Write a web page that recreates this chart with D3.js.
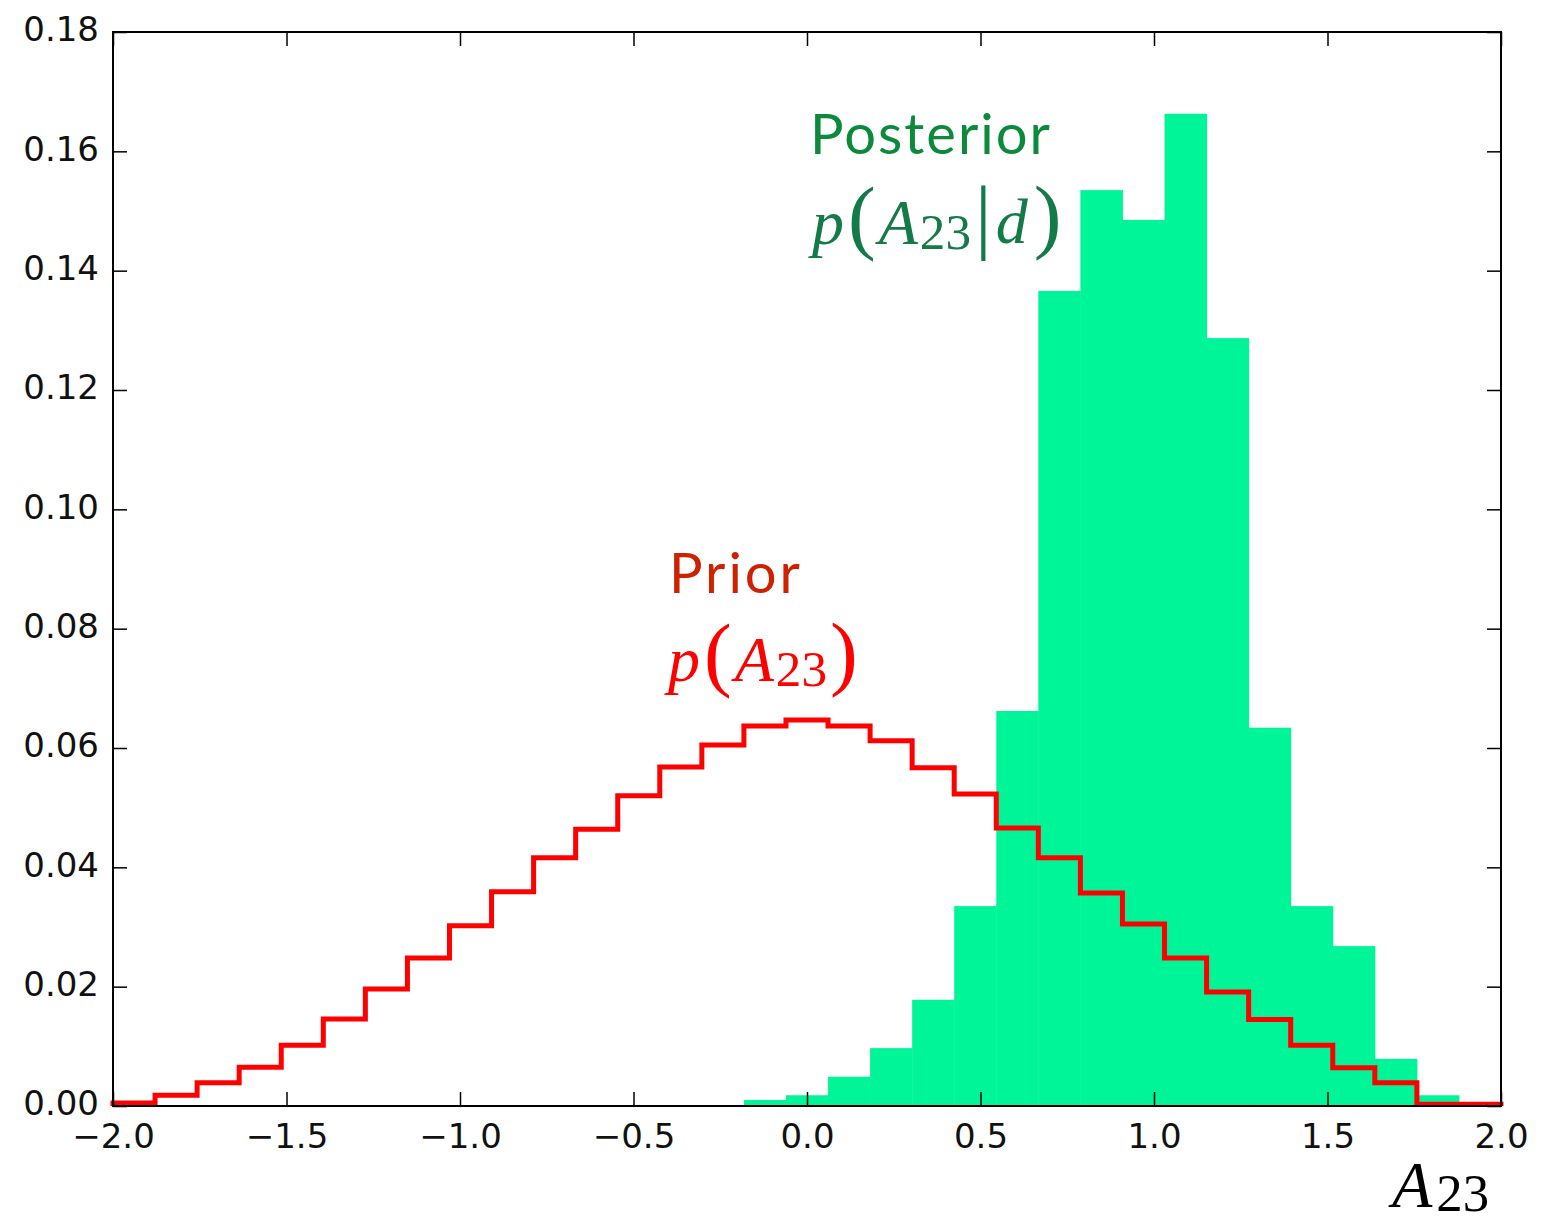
<!DOCTYPE html>
<html>
<head>
<meta charset="utf-8">
<script src="https://cdn.jsdelivr.net/npm/d3@7"></script>
<style>
  body { margin: 0; background: #fff; }
  svg { display: block; }
</style>
</head>
<body>
<div id="chart"></div>
<script>
// 33 equal bins from -2 to 2
const binCount = 33;
const xDomain = [-2, 2];
const yDomain = [0, 0.18];
const xTicks = [-2.0, -1.5, -1.0, -0.5, 0.0, 0.5, 1.0, 1.5, 2.0];
const yTicks = [0.00, 0.02, 0.04, 0.06, 0.08, 0.10, 0.12, 0.14, 0.16, 0.18];

// prior p(A23), one value per bin
const priorValues = [
  0.0005, 0.0018, 0.0039, 0.0065, 0.0102, 0.0146, 0.0196, 0.0248, 0.0302, 0.0359, 0.0416,
  0.0464, 0.0520, 0.0568, 0.0605, 0.0637, 0.0647, 0.0637, 0.0612, 0.0567, 0.0523, 0.0466,
  0.0416, 0.0357, 0.0305, 0.0248, 0.0191, 0.0145, 0.0102, 0.0064, 0.0039, 0.0003, 0.0003
];

// posterior p(A23|d), one value per bin
const posteriorValues = [
  0, 0, 0, 0, 0, 0, 0, 0, 0, 0, 0,
  0, 0, 0, 0, 0.0010, 0.0018, 0.0049, 0.0097, 0.0178, 0.0335, 0.0662,
  0.1366, 0.1535, 0.1485, 0.1663, 0.1287, 0.0634, 0.0335, 0.0268, 0.0079, 0.0018, 0
];

const W = 1546, H = 1224;
const margin = {top: 32, right: 45, bottom: 118, left: 113};

const svg = d3.select("#chart")
  .append("svg")
  .attr("width", W)
  .attr("height", H);

const x = d3.scaleLinear()
  .domain(xDomain)
  .range([margin.left, W - margin.right]);

const y = d3.scaleLinear()
  .domain(yDomain)
  .range([H - margin.bottom, margin.top]);

const binWidth = (xDomain[1] - xDomain[0]) / binCount;
const edge = i => xDomain[0] + i * binWidth;

const plot = svg.append("g");

// posterior filled bars
plot.append("g")
  .selectAll("rect")
  .data(posteriorValues.map((v, i) => ({i, v})).filter(d => d.v > 0))
  .join("rect")
  .attr("x", d => x(edge(d.i)))
  .attr("width", d => x(edge(d.i + 1)) - x(edge(d.i)) + 0.5)
  .attr("y", d => y(d.v))
  .attr("height", d => y(0) - y(d.v))
  .attr("fill", "#00f598");

// prior step outline
const stepPts = [[edge(0), 0]];
priorValues.forEach((v, i) => {
  stepPts.push([edge(i), v]);
  stepPts.push([edge(i + 1), v]);
});
stepPts.push([edge(binCount), 0]);

plot.append("path")
  .attr("d", d3.line().x(d => x(d[0])).y(d => y(d[1]))(stepPts))
  .attr("fill", "none")
  .attr("stroke", "#ff0000")
  .attr("stroke-width", 5)
  .attr("stroke-linejoin", "miter");

// axes, ticks pointing inward on all four sides
const fmtX = d3.format(".1f");
const fmtY = d3.format(".2f");
const tickLen = 14;

function styleAxis(g) {
  g.select(".domain").remove();
  g.selectAll(".tick line").attr("stroke", "#000").attr("stroke-width", 1.5);
  g.selectAll(".tick text")
    .attr("fill", "#111")
    .style("font-family", "'DejaVu Sans', sans-serif")
    .style("font-size", "34px");
}

svg.append("g")
  .attr("transform", `translate(0,${y(0)})`)
  .call(d3.axisBottom(x).tickValues(xTicks).tickFormat(fmtX).tickSize(-tickLen).tickPadding(18))
  .call(styleAxis);

svg.append("g")
  .attr("transform", `translate(0,${y(yDomain[1])})`)
  .call(d3.axisTop(x).tickValues(xTicks).tickFormat("").tickSize(-tickLen))
  .call(styleAxis);

svg.append("g")
  .attr("transform", `translate(${x(xDomain[0])},0)`)
  .call(d3.axisLeft(y).tickValues(yTicks).tickFormat(fmtY).tickSize(-tickLen).tickPadding(14))
  .call(styleAxis)
  .selectAll(".tick text").attr("dy", "0.26em");

svg.append("g")
  .attr("transform", `translate(${x(xDomain[1])},0)`)
  .call(d3.axisRight(y).tickValues(yTicks).tickFormat("").tickSize(-tickLen))
  .call(styleAxis);

// frame
svg.append("rect")
  .attr("x", x(xDomain[0]))
  .attr("y", y(yDomain[1]))
  .attr("width", x(xDomain[1]) - x(xDomain[0]))
  .attr("height", y(0) - y(yDomain[1]))
  .attr("fill", "none")
  .attr("stroke", "#000")
  .attr("stroke-width", 2);

// annotations
const mathFont = "'Liberation Serif', 'DejaVu Serif', serif";
const labelFont = "Lato, 'Open Sans', sans-serif";

function mathText(xp, yp, parts, color, size) {
  const t = svg.append("text")
    .attr("x", xp).attr("y", yp)
    .attr("fill", color)
    .style("font-family", mathFont)
    .style("font-size", size + "px");
  parts.forEach(p => {
    const s = t.append("tspan").text(p.t);
    if (p.italic) s.style("font-style", "italic");
    if (p.sub) s.attr("dy", p.sub).style("font-size", (size * 0.8) + "px");
    if (p.up) s.attr("dy", p.up);
    if (p.dx) s.attr("dx", p.dx);
    if (p.big) s.style("font-size", (size * p.big) + "px");
  });
  return t;
}

function label(xp, yp, txt, color, len) {
  svg.append("text")
    .attr("x", xp).attr("y", yp)
    .attr("fill", color)
    .attr("textLength", len)
    .attr("lengthAdjust", "spacing")
    .style("font-family", labelFont)
    .style("font-size", "56px")
    .text(txt);
}

label(810, 154, "Posterior", "#0b8a3c", 240);

mathText(812, 244, [
  {t: "p", italic: true},
  {t: "(", big: 1.3, dx: 4},
  {t: "A", italic: true, dx: 3},
  {t: "23", sub: "0.1em", dx: 2},
  {t: "|", up: "-0.07em", big: 1.3, dx: 4},
  {t: "d", italic: true, dx: 4},
  {t: ")", big: 1.3, dx: 6}
], "#137a48", 64);

label(669, 593, "Prior", "#cc2200", 131);

mathText(668, 681, [
  {t: "p", italic: true},
  {t: "(", big: 1.3, dx: 4},
  {t: "A", italic: true, dx: 3},
  {t: "23", sub: "0.1em", dx: 2},
  {t: ")", up: "-0.07em", big: 1.3, dx: 3}
], "#ff0000", 64);

mathText(1392, 1207, [
  {t: "A", italic: true},
  {t: "23", sub: "0.08em", dx: 4}
], "#000", 66);
</script>
</body>
</html>
